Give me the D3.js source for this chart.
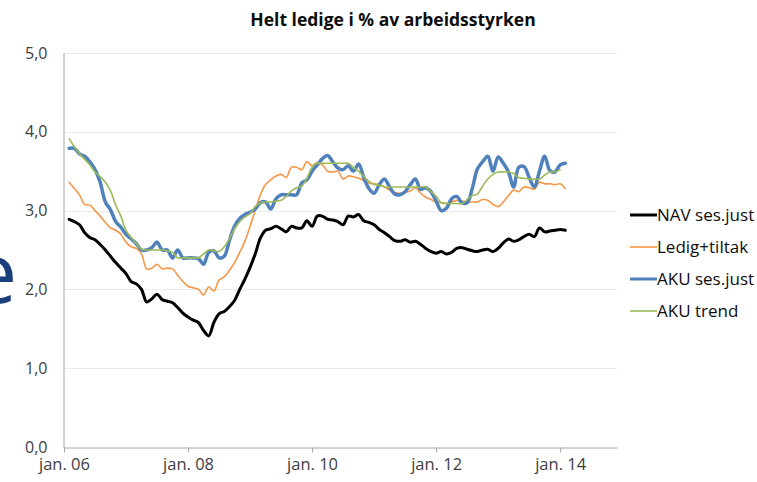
<!DOCTYPE HTML>
<html>

<head>
    <meta charset="utf-8">
    <title>Helt ledige i % av arbeidsstyrken</title>
    <style>
        body {
            margin: 0;
            background-color: #FFFFFF;
        }

        svg text {
            font-family: "Open Sans", sans-serif;
        }
    </style>
</head>

<body>
    <svg id='chartGraph'></svg>

    <script src="https://cdn.jsdelivr.net/npm/d3@7/dist/d3.min.js"></script>

    <script type="text/javascript">
        // months counted from jan. 06; first value is feb. 06
        const firstMonth = 1;

        const navSesJust = [2.89, 2.86, 2.82, 2.72, 2.66, 2.63, 2.57, 2.50, 2.42, 2.34, 2.27, 2.20,
            2.10, 2.07, 2.00, 1.84, 1.88, 1.94, 1.87, 1.85, 1.83, 1.77, 1.70, 1.65,
            1.61, 1.58, 1.48, 1.41, 1.58, 1.69, 1.72, 1.78, 1.86, 2.00, 2.13, 2.28,
            2.45, 2.65, 2.75, 2.77, 2.80, 2.77, 2.73, 2.80, 2.78, 2.78, 2.87, 2.80,
            2.93, 2.93, 2.89, 2.88, 2.86, 2.82, 2.93, 2.92, 2.95, 2.87, 2.85, 2.82,
            2.76, 2.72, 2.67, 2.62, 2.61, 2.63, 2.60, 2.61, 2.57, 2.52, 2.48, 2.46,
            2.48, 2.45, 2.47, 2.52, 2.53, 2.51, 2.49, 2.48, 2.50, 2.51, 2.48, 2.52,
            2.59, 2.64, 2.61, 2.63, 2.67, 2.70, 2.67, 2.78, 2.73, 2.74, 2.75, 2.76, 2.75];

        const ledigTiltak = [3.36, 3.28, 3.20, 3.08, 3.07, 3.00, 2.93, 2.85, 2.78, 2.75, 2.70, 2.60,
            2.54, 2.52, 2.45, 2.26, 2.27, 2.32, 2.26, 2.27, 2.26, 2.18, 2.10, 2.04,
            2.02, 2.00, 1.93, 2.03, 1.98, 2.12, 2.16, 2.24, 2.34, 2.47, 2.61, 2.80,
            3.00, 3.20, 3.33, 3.39, 3.44, 3.46, 3.42, 3.55, 3.55, 3.52, 3.62, 3.57,
            3.61, 3.58, 3.50, 3.49, 3.50, 3.40, 3.44, 3.43, 3.41, 3.38, 3.35, 3.34,
            3.33, 3.30, 3.26, 3.23, 3.22, 3.23, 3.25, 3.29, 3.22, 3.17, 3.14, 3.11,
            3.10, 3.09, 3.11, 3.13, 3.12, 3.11, 3.11, 3.11, 3.14, 3.13, 3.08, 3.05,
            3.11, 3.19, 3.26, 3.24, 3.30, 3.29, 3.27, 3.36, 3.34, 3.34, 3.33, 3.34, 3.28];

        const akuSesJust = [3.79, 3.79, 3.72, 3.69, 3.62, 3.52, 3.36, 3.11, 3.01, 2.86, 2.79, 2.70,
            2.64, 2.58, 2.50, 2.50, 2.53, 2.60, 2.50, 2.50, 2.40, 2.50, 2.40, 2.40,
            2.40, 2.39, 2.32, 2.47, 2.49, 2.40, 2.42, 2.62, 2.80, 2.90, 2.95, 2.98,
            3.02, 3.10, 3.11, 3.02, 3.15, 3.20, 3.20, 3.20, 3.20, 3.35, 3.39, 3.50,
            3.58, 3.66, 3.70, 3.62, 3.54, 3.52, 3.57, 3.50, 3.59, 3.42, 3.28, 3.22,
            3.33, 3.40, 3.30, 3.21, 3.20, 3.24, 3.33, 3.40, 3.27, 3.29, 3.24, 3.12,
            3.00, 3.03, 3.15, 3.18, 3.10, 3.10, 3.28, 3.53, 3.62, 3.69, 3.50, 3.68,
            3.60, 3.49, 3.30, 3.55, 3.56, 3.42, 3.30, 3.50, 3.69, 3.51, 3.49, 3.58, 3.60];

        const akuTrend = [3.91, 3.81, 3.72, 3.65, 3.58, 3.49, 3.43, 3.36, 3.25, 3.07, 2.93, 2.75,
            2.66, 2.58, 2.51, 2.50, 2.50, 2.50, 2.50, 2.49, 2.47, 2.40, 2.40, 2.40,
            2.40, 2.40, 2.45, 2.50, 2.49, 2.48, 2.54, 2.64, 2.77, 2.86, 2.92, 2.96,
            3.05, 3.10, 3.11, 3.11, 3.12, 3.13, 3.18, 3.25, 3.29, 3.31, 3.41, 3.55,
            3.60, 3.60, 3.60, 3.60, 3.60, 3.60, 3.60, 3.55, 3.50, 3.43, 3.37, 3.33,
            3.32, 3.30, 3.30, 3.30, 3.30, 3.30, 3.30, 3.30, 3.30, 3.30, 3.24, 3.18,
            3.10, 3.09, 3.09, 3.09, 3.09, 3.14, 3.19, 3.21, 3.31, 3.40, 3.46, 3.49,
            3.49, 3.49, 3.47, 3.42, 3.41, 3.40, 3.40, 3.40, 3.45, 3.49, 3.49, 3.52];

        const seriesNames = ["NAV ses.just", "Ledig+tiltak", "AKU ses.just", "AKU trend"];
        const yTicks = [0, 1, 2, 3, 4, 5];
        const yTickLabels = ["0,0", "1,0", "2,0", "3,0", "4,0", "5,0"];
        const xTickMonths = [0, 24, 48, 72, 96];
        const xTickLabels = ["jan. 06", "jan. 08", "jan. 10", "jan. 12", "jan. 14"];

        const svgWidth = 757;
        const svgHeight = 482;

        let svg = d3.select('svg')
            .attr("width", svgWidth)
            .attr("height", svgHeight);

        const x = d3.scaleLinear().domain([0, 107]).range([64, 617]);
        const y = d3.scaleLinear().domain([0, 5]).range([447, 53]);

        // left edge fragment of a letter behind the chart (cut off in the original too)
        svg.append("text")
            .attr("x", -30)
            .attr("y", 303)
            .attr("font-size", 84)
            .attr("fill", "#1B3F7A")
            .text("e");

        svg.append("text")
            .attr("x", 393)
            .attr("y", 26)
            .attr("text-anchor", "middle")
            .attr("font-size", 17.5)
            .attr("font-weight", "bold")
            .attr("fill", "#0D0D0D")
            .text("Helt ledige i % av arbeidsstyrken");

        // gridlines
        svg.append("g")
            .selectAll("line")
            .data(yTicks.slice(1))
            .enter()
            .append("line")
            .attr("x1", x(0))
            .attr("x2", x(107))
            .attr("y1", function (d) { return Math.round(y(d)) + 0.5; })
            .attr("y2", function (d) { return Math.round(y(d)) + 0.5; })
            .attr("stroke", "#EBEBEB")
            .attr("stroke-width", 1);

        // y axis
        let yAxis = svg.append("g")
            .attr("transform", "translate(" + (Math.round(x(0)) - 0.5) + ",0)")
            .call(d3.axisLeft(y)
                .tickValues(yTicks)
                .tickSize(0)
                .tickPadding(16)
                .tickFormat(function (d, i) { return yTickLabels[i]; }));
        yAxis.select(".domain").attr("stroke", "#A6A6A6");
        yAxis.selectAll("text")
            .attr("font-size", 16)
            .attr("fill", "#404040")
            .attr("font-family", "Open Sans, sans-serif");

        // x axis
        let xAxis = svg.append("g")
            .attr("transform", "translate(0," + (Math.round(y(0)) + 0.5) + ")")
            .call(d3.axisBottom(x)
                .tickValues(xTickMonths)
                .tickSize(5)
                .tickPadding(6)
                .tickSizeOuter(0)
                .tickFormat(function (d, i) { return xTickLabels[i]; }));
        xAxis.select(".domain").attr("stroke", "#A6A6A6");
        xAxis.selectAll("line").attr("stroke", "#A6A6A6");
        xAxis.selectAll("text")
            .attr("font-size", 16.5)
            .attr("fill", "#404040")
            .attr("font-family", "Open Sans, sans-serif");

        const series = [
            { name: seriesNames[0], values: navSesJust, color: "#000000", width: 3 },
            { name: seriesNames[1], values: ledigTiltak, color: "#F79646", width: 1.6 },
            { name: seriesNames[2], values: akuSesJust, color: "#4F81BD", width: 3.5 },
            { name: seriesNames[3], values: akuTrend, color: "#9BBB59", width: 1.6 }
        ];

        const line = d3.line()
            .x(function (d, i) { return x(firstMonth + i); })
            .y(function (d) { return y(d); })
            .curve(d3.curveCatmullRom);

        svg.append("g")
            .selectAll("path")
            .data(series)
            .enter()
            .append("path")
            .attr("d", function (d) { return line(d.values); })
            .attr("fill", "none")
            .attr("stroke", function (d) { return d.color; })
            .attr("stroke-width", function (d) { return d.width; })
            .attr("stroke-linejoin", "round")
            .attr("stroke-linecap", "round");

        // legend
        let legend = svg.append("g")
            .selectAll("g")
            .data(series)
            .enter()
            .append("g")
            .attr("transform", function (d, i) { return "translate(630," + (215 + i * 32) + ")"; });

        legend.append("line")
            .attr("x1", 0)
            .attr("x2", 27)
            .attr("stroke", function (d) { return d.color; })
            .attr("stroke-width", function (d) { return d.width > 2 ? 3 : 1.6; });

        legend.append("text")
            .attr("x", 27)
            .attr("dy", "0.35em")
            .attr("font-size", 17)
            .attr("fill", "#0D0D0D")
            .text(function (d) { return d.name; });
    </script>
</body>
</html>
